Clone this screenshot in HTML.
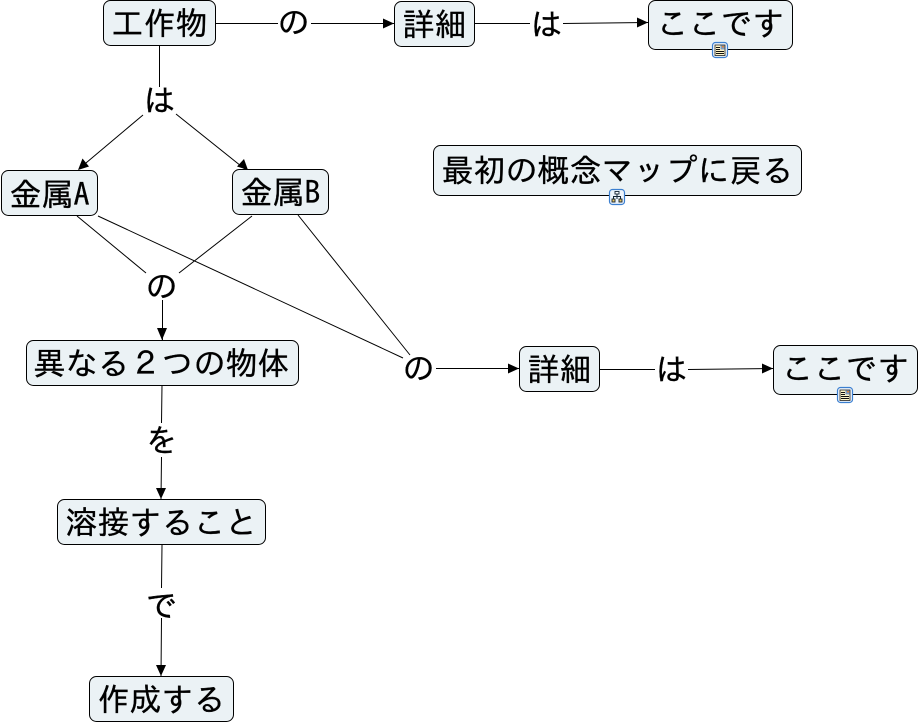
<!DOCTYPE html>
<html><head><meta charset="utf-8"><style>
html,body{margin:0;padding:0;background:#fff}
svg{display:block}
text{font-family:"IPAGothic","Liberation Sans",sans-serif;font-size:32px;fill:#000;stroke:#000;stroke-width:.3px}
.n{fill:#ebf2f5;stroke:#000;stroke-width:1}
.l{stroke:#000;stroke-width:1;fill:none}
.a{fill:#000}
</style></head><body>
<svg width="919" height="724" viewBox="0 0 919 724" xmlns="http://www.w3.org/2000/svg">
<g class="l">
<path d="M216 23.500H278M311 23.500H394"/>
<path d="M475 23.500H530M563 23.500L648 22.500"/>
<path d="M159.500 46V87M143 115L80 168M176 114L246 170"/>
<path d="M77 216L146 273M252 216L179 273M162.500 300V340"/>
<path d="M98 216L403 358M298 215L410 355M436 368.500H519"/>
<path d="M600 369.500H655M688 369.500L773 368.500"/>
<path d="M162 385L161.500 423M161.500 457L161 499"/>
<path d="M162 545L161.500 588M161.500 618L161 676"/>
</g>
<g class="a">
<path d="M394 23.500l-11-5v10z"/>
<path d="M648 22.500l-11-5v10z"/>
<path d="M78 170l11-3.500-6.500-8z"/>
<path d="M248 170l-4-11-7 7.500z"/>
<path d="M162 340l-5-12h10z"/>
<path d="M519 368.500l-11-5v10z"/>
<path d="M773 368.500l-11-5v10z"/>
<path d="M161 499l-5-11h10z"/>
<path d="M161 676l-5-11h10z"/>
</g>
<rect class="n" x="103.500" y="0.500" width="112" height="45" rx="7"/>
<rect class="n" x="394.500" y="1.500" width="80" height="45" rx="7"/>
<rect class="n" x="648.500" y="0.500" width="144" height="49" rx="7"/>
<rect class="n" x="433.500" y="145.500" width="368" height="50" rx="7"/>
<rect class="n" x="1.500" y="170.500" width="96" height="45" rx="7"/>
<rect class="n" x="232.500" y="169.500" width="96" height="45" rx="7"/>
<rect class="n" x="26.500" y="340.500" width="272" height="45" rx="7"/>
<rect class="n" x="519.500" y="346.500" width="80" height="45" rx="7"/>
<rect class="n" x="773.500" y="345.500" width="144" height="49" rx="7"/>
<rect class="n" x="57.500" y="499.500" width="208" height="45" rx="7"/>
<rect class="n" x="89.500" y="676.500" width="144" height="45" rx="7"/>
<text x="111.500" y="35">工作物</text>
<text x="402.500" y="36">詳細</text>
<text x="656.500" y="35">ここです</text>
<text x="441.500" y="182">最初の概念マップに戻る</text>
<text x="9.500" y="206">金属A</text>
<text x="240.500" y="204">金属B</text>
<text x="33.500" y="375">異なる２つの物体</text>
<text x="527.500" y="381">詳細</text>
<text x="781.500" y="380">ここです</text>
<text x="65.500" y="534">溶接すること</text>
<text x="97.500" y="711">作成する</text>
<text x="277.500" y="34">の</text>
<text x="530.500" y="36">は</text>
<text x="143.500" y="112">は</text>
<text x="145.500" y="298">の</text>
<text x="402.500" y="380">の</text>
<text x="655.500" y="381">は</text>
<text x="145.500" y="452">を</text>
<text x="145.500" y="617">で</text>
<g>
<rect x="712.500" y="42.500" width="15" height="15" rx="3" fill="#eef4fb" stroke="#3b7fd0" stroke-width="1.200"/>
<rect x="715" y="45" width="10" height="10.500" fill="#fff6c8" stroke="#222" stroke-width=".8"/>
<path d="M716 47.500h4M716 49.500h4M716 51.500h8M716 53.500h8" stroke="#111" stroke-width="1"/>
<rect x="720.500" y="45.500" width="4" height="4" fill="#7f9cc2"/>
<rect x="722" y="46" width="2" height="1.500" fill="#d8843c"/>
</g>
<g>
<rect x="837.500" y="387.500" width="15" height="15" rx="3" fill="#eef4fb" stroke="#3b7fd0" stroke-width="1.200"/>
<rect x="840" y="390" width="10" height="10.500" fill="#fff6c8" stroke="#222" stroke-width=".8"/>
<path d="M841 392.500h4M841 394.500h4M841 396.500h8M841 398.500h8" stroke="#111" stroke-width="1"/>
<rect x="845.500" y="390.500" width="4" height="4" fill="#7f9cc2"/>
<rect x="847" y="391" width="2" height="1.500" fill="#d8843c"/>
</g>
<g>
<rect x="609.500" y="189.500" width="15" height="15" rx="3" fill="#eef4fb" stroke="#3b7fd0" stroke-width="1.200"/>
<path d="M617 194v2.500M613.500 199v-2.500h7v2.500M617 196.500v2.500" fill="none" stroke="#123" stroke-width="1"/>
<rect x="615" y="191.500" width="4" height="2.500" fill="#fff" stroke="#123" stroke-width=".9"/>
<rect x="612" y="199" width="3" height="3" fill="#e8c45a" stroke="#123" stroke-width=".9"/>
<rect x="619" y="199" width="3" height="3" fill="#e8c45a" stroke="#123" stroke-width=".9"/>
</g>
</svg>
</body></html>
